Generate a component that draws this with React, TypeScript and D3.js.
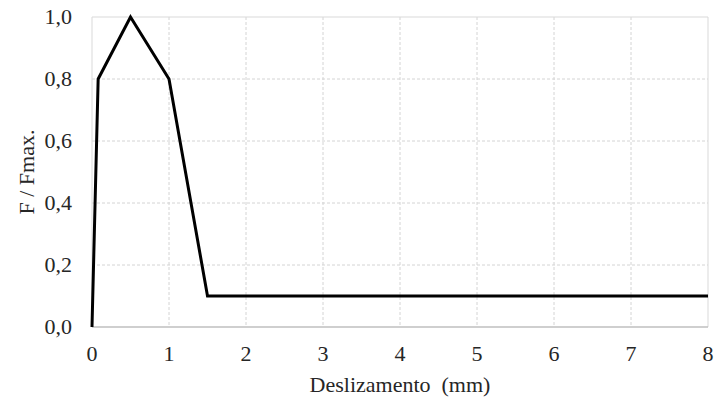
import React, { useRef, useEffect } from "react";
import * as d3 from "d3";

// slip (mm) vs normalised force
const slip = [0, 0.08, 0.5, 1.0, 1.5, 8];
const force = [0, 0.8, 1.0, 0.8, 0.1, 0.1];
const xTicks = [0, 1, 2, 3, 4, 5, 6, 7, 8];
const yTicks = [0, 0.2, 0.4, 0.6, 0.8, 1.0];
const xTitle = "Deslizamento  (mm)";
const yTitle = "F / Fmax.";

const App = () => {
  const wrapper = useRef<SVGSVGElement>(null);

  const width = 719;
  const height = 403;
  const left = 92;
  const right = 708;
  const top = 17;
  const bottom = 327;
  const font = "Liberation Serif";
  const fs = "22px";
  const ink = "#262626";

  useEffect(() => {
    const svg = d3.select(wrapper.current);
    svg.selectAll("*").remove();

    const x = d3.scaleLinear().domain([0, 8]).range([left, right]);
    const y = d3.scaleLinear().domain([0, 1]).range([bottom, top]);

    // grid
    svg
      .selectAll(".vgrid")
      .data(xTicks.slice(1, -1))
      .enter()
      .append("line")
      .attr("x1", (d) => x(d))
      .attr("x2", (d) => x(d))
      .attr("y1", top)
      .attr("y2", bottom)
      .attr("stroke", "#d4d4d4")
      .attr("stroke-dasharray", "3,2");

    svg
      .selectAll(".hgrid")
      .data(yTicks.slice(1, -1))
      .enter()
      .append("line")
      .attr("x1", left)
      .attr("x2", right)
      .attr("y1", (d) => y(d))
      .attr("y2", (d) => y(d))
      .attr("stroke", "#d4d4d4")
      .attr("stroke-dasharray", "3,2");

    // frame
    svg
      .append("path")
      .attr("d", `M${left},${bottom}V${top}H${right}V${bottom}`)
      .attr("fill", "none")
      .attr("stroke", "#d9d9d9");
    svg
      .append("line")
      .attr("x1", left)
      .attr("x2", right)
      .attr("y1", bottom)
      .attr("y2", bottom)
      .attr("stroke", "#bfbfbf")
      .attr("stroke-width", 1.5);

    // ticks
    svg
      .selectAll(".xt")
      .data(xTicks)
      .enter()
      .append("text")
      .attr("x", (d) => x(d))
      .attr("y", 361)
      .attr("text-anchor", "middle")
      .attr("font-family", font)
      .attr("font-size", fs)
      .attr("fill", ink)
      .text((d) => d);

    svg
      .selectAll(".yt")
      .data(yTicks)
      .enter()
      .append("text")
      .attr("x", 72)
      .attr("y", (d) => y(d))
      .attr("dy", "0.33em")
      .attr("text-anchor", "end")
      .attr("font-family", font)
      .attr("font-size", fs)
      .attr("fill", ink)
      .text((d) => d.toFixed(1).replace(".", ","));

    // titles
    svg
      .append("text")
      .attr("x", (left + right) / 2)
      .attr("y", 392)
      .attr("text-anchor", "middle")
      .attr("font-family", font)
      .attr("font-size", fs)
      .style("white-space", "pre")
      .attr("fill", ink)
      .text(xTitle);

    svg
      .append("text")
      .attr("transform", `translate(34,${(top + bottom) / 2}) rotate(-90)`)
      .attr("text-anchor", "middle")
      .attr("font-family", font)
      .attr("font-size", fs)
      .attr("fill", ink)
      .text(yTitle);

    // curve
    const line = d3
      .line<number>()
      .x((d, i) => x(slip[i]))
      .y((d) => y(d));

    svg
      .append("path")
      .datum(force)
      .attr("d", line)
      .attr("fill", "none")
      .attr("stroke", "#000")
      .attr("stroke-width", 3)
      .attr("stroke-linejoin", "miter");
  }, []);

  return (
    <svg
      ref={wrapper}
      width={width}
      height={height}
      style={{ position: "absolute", left: 0, top: 0, background: "#fff" }}
    />
  );
};

export default App;
